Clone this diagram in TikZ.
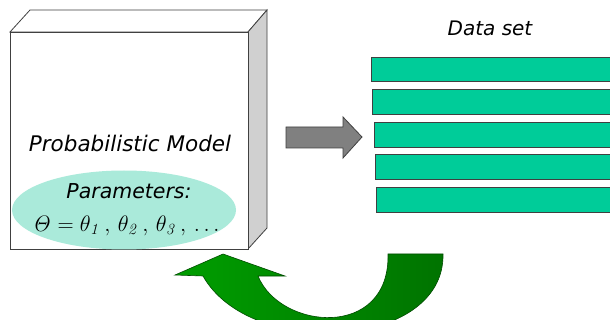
\documentclass[tikz,border=0pt]{standalone}
\usepackage{amsmath}
\usepackage[no-math]{fontspec}
\newfontfamily\handfont{DejaVu Sans}
\usetikzlibrary{arrows.meta,shapes.geometric}
\definecolor{barfill}{RGB}{0,204,153}
\definecolor{ellfill}{RGB}{170,234,218}
\definecolor{sidegray}{RGB}{208,208,208}
\tikzset{
  edge/.style={draw=black!75, line width=0.8pt},
  databar/.style={edge, fill=barfill},
  lbl/.style={font=\handfont\itshape, inner sep=0pt}
}
\begin{document}
\begin{tikzpicture}[x=1pt, y=-1pt, line join=miter]
  \useasboundingbox[fill=white] (0,0) rectangle (610,320);

  % 3D block for the model
  \coordinate (fl) at (10,32);   \coordinate (fr) at (248,32);
  \coordinate (bl) at (10,249);  \coordinate (br) at (248,249);
  \coordinate (tl) at (30,10);   \coordinate (tr) at (267,10);
  \coordinate (rb) at (267,228);
  \filldraw[edge, fill=white] (fl) -- (tl) -- (tr) -- (fr) -- cycle;
  \filldraw[edge, fill=sidegray] (fr) -- (tr) -- (rb) -- (br) -- cycle;
  \filldraw[edge, fill=white] (fl) rectangle (br);

  \node[lbl, font=\handfont\itshape\fontsize{21.5}{25}\selectfont] (model) at (130,143) {Probabilistic Model};

  \node[ellipse, fill=ellfill, minimum width=224pt, minimum height=79pt, inner sep=0pt] (params) at (124,210) {};
  \node[lbl, font=\handfont\itshape\fontsize{20.5}{24}\selectfont] (ptitle) at (129,191) {Parameters:};
  \node[inner sep=0pt, font=\fontsize{20.74}{25}\selectfont] (pvals) at (126,226)
    {\scalebox{1.08}{$\mathit{\Theta} = \theta_{\mathit{1}}\,,\, \theta_{\mathit{2}}\,,\, \theta_{\mathit{3}}\,,\, \ldots$}};

  % gray arrow toward the data
  \filldraw[edge, fill=black!50] (286,127) -- (343,127) -- (343,117) -- (362,137) -- (343,158)
     -- (343,148) -- (286,148) -- cycle;

  % data set rows
  \node[lbl, font=\handfont\itshape\fontsize{20}{23}\selectfont] (dtitle) at (490,28) {Data set};
  \draw[databar] (371,57) rectangle (615,81);
  \draw[databar] (372,89) rectangle (615,114);
  \draw[databar] (374,122) rectangle (615,147);
  \draw[databar] (375,154) rectangle (615,179);
  \draw[databar] (376,187) rectangle (615,212);

  % curved green arrow returning to the model
  \draw[draw=black!70!green, line width=0.6pt, left color=green!62!black, right color=green!45!black]
    (223,254) -- (285,276) -- (258,276)
    .. controls (280,330) and (390,340) .. (388,254)
    -- (443,254)
    .. controls (445,350) and (250,360) .. (203,276)
    -- (175,275) -- cycle;
\end{tikzpicture}
\end{document}
